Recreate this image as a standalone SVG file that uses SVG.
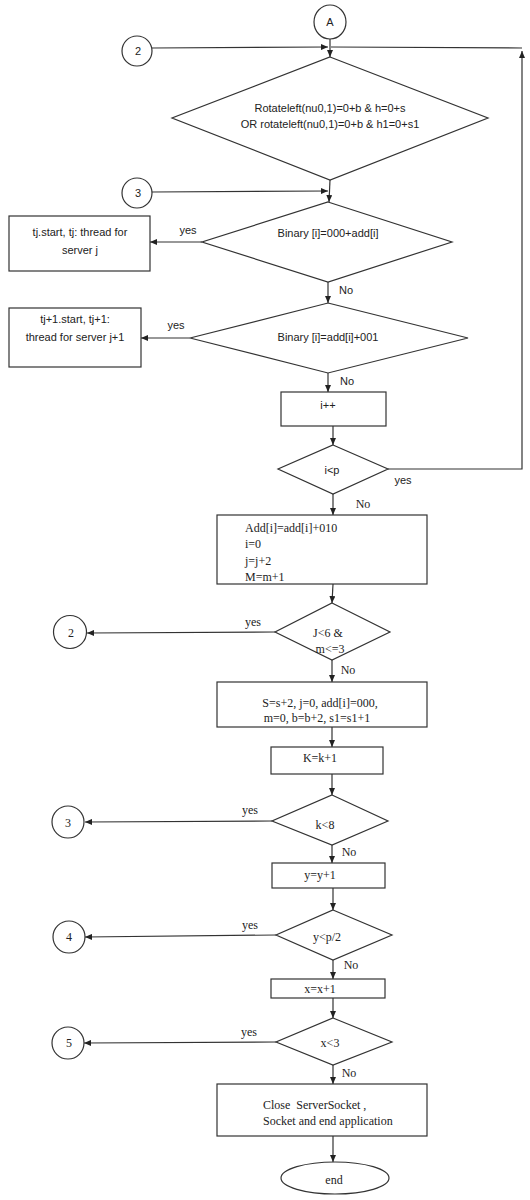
<svg xmlns="http://www.w3.org/2000/svg" width="530" height="1200" viewBox="0 0 530 1200">
<style>
.shape{fill:#fff;stroke:#333;stroke-width:1.2}
.line{fill:none;stroke:#333;stroke-width:1.2}
.arr{fill:none;stroke:#333;stroke-width:1.2;marker-end:url(#ah)}
.sans{font-family:"Liberation Sans",Arial,sans-serif;font-size:11px;fill:#222}
.serif{font-family:"Liberation Serif","Times New Roman",serif;font-size:12px;fill:#222}
.mid{text-anchor:middle}
</style>
<defs>
<marker id="ah" viewBox="0 0 7 6" refX="7" refY="3" markerWidth="7" markerHeight="6" orient="auto" markerUnits="userSpaceOnUse">
<path d="M0,0 L7,3 L0,6 z" fill="#222"/>
</marker>
</defs>
<rect width="530" height="1200" fill="#fff"/>

<g id="connectors">
<path class="arr" d="M330,39 L330,57"/>
<path class="arr" d="M152,48 L328,47"/>
<path class="arr" d="M388,469 L522,469 L522,51"/>
<path class="line" d="M522,48 L331,47"/>
<path class="arr" d="M152,192 L328,191"/>
<path class="arr" d="M330,180 L329,202"/>
<path class="arr" d="M202,242 L150,242"/>
<path class="arr" d="M328,282 L328,303"/>
<path class="arr" d="M190,338 L141,338"/>
<path class="arr" d="M328,373 L328,392"/>
<path class="arr" d="M333,426 L333,445"/>
<path class="arr" d="M333,494 L333,515"/>
<path class="arr" d="M333,584 L332,603"/>
<path class="arr" d="M275,632 L87,633"/>
<path class="arr" d="M332,660 L332,682"/>
<path class="arr" d="M332,727 L332,747"/>
<path class="arr" d="M332,774 L332,795"/>
<path class="arr" d="M272,821 L85,822"/>
<path class="arr" d="M332,845 L332,863"/>
<path class="arr" d="M333,888 L333,910"/>
<path class="arr" d="M276,935 L85,937"/>
<path class="arr" d="M333,960 L333,979"/>
<path class="arr" d="M333,998 L333,1018"/>
<path class="arr" d="M276,1042 L84,1043"/>
<path class="arr" d="M333,1065 L333,1084"/>
<path class="arr" d="M333,1136 L333,1162"/>
<text class="sans mid" x="188" y="234">yes</text>
<text class="sans mid" x="346" y="294">No</text>
<text class="sans mid" x="176" y="329">yes</text>
<text class="sans mid" x="347" y="385">No</text>
<text class="sans mid" x="403" y="484">yes</text>
<text class="serif mid" x="363" y="508">No</text>
<text class="serif mid" x="253" y="626">yes</text>
<text class="serif mid" x="348" y="674">No</text>
<text class="serif mid" x="250" y="814">yes</text>
<text class="serif mid" x="349" y="856">No</text>
<text class="serif mid" x="250" y="929">yes</text>
<text class="serif mid" x="351" y="969">No</text>
<text class="serif mid" x="249" y="1036">yes</text>
<text class="serif mid" x="349" y="1077">No</text>
</g>

<g id="start-A">
<ellipse class="shape" cx="330" cy="22" rx="16" ry="17"/>
<text class="sans mid" x="330" y="26">A</text>
</g>
<g id="conn-2-top">
<circle class="shape" cx="137" cy="51" r="15"/>
<text class="sans mid" x="138" y="55">2</text>
</g>
<g id="conn-3-top">
<circle class="shape" cx="137" cy="193" r="15"/>
<text class="sans mid" x="138" y="197">3</text>
</g>
<g id="dec-rotate">
<polygon class="shape" points="330,57 488,118 330,180 172,118"/>
<text class="sans mid" x="330" y="112">Rotateleft(nu0,1)=0+b &amp; h=0+s</text>
<text class="sans mid" x="330" y="128">OR rotateleft(nu0,1)=0+b &amp; h1=0+s1</text>
</g>
<g id="dec-binary-000">
<polygon class="shape" points="328,202 452,242 328,282 202,242"/>
<text class="sans mid" x="328" y="237">Binary [i]=000+add[i]</text>
</g>
<g id="box-tj">
<rect class="shape" x="9" y="216" width="141" height="55"/>
<text class="sans mid" x="80" y="236">tj.start, tj: thread for</text>
<text class="sans mid" x="80" y="254">server j</text>
</g>
<g id="dec-binary-001">
<polygon class="shape" points="328,303 468,338 328,373 190,338"/>
<text class="sans mid" x="328" y="341">Binary [i]=add[i]+001</text>
</g>
<g id="box-tj1">
<rect class="shape" x="9" y="308" width="132" height="59"/>
<text class="sans mid" x="75" y="323">tj+1.start, tj+1:</text>
<text class="sans mid" x="75" y="341">thread for  server j+1</text>
</g>
<g id="box-iinc">
<rect class="shape" x="281" y="392" width="105" height="34"/>
<text class="sans mid" x="328" y="409">i++</text>
</g>
<g id="dec-ip">
<polygon class="shape" points="333,445 388,469 333,494 278,469"/>
<text class="sans mid" x="332" y="474">i&lt;p</text>
</g>
<g id="box-add">
<rect class="shape" x="217" y="515" width="210" height="69"/>
<text class="serif" x="245" y="532">Add[i]=add[i]+010</text>
<text class="serif" x="245" y="548">i=0</text>
<text class="serif" x="245" y="565">j=j+2</text>
<text class="serif" x="245" y="581">M=m+1</text>
</g>
<g id="dec-j6">
<polygon class="shape" points="332,603 390,632 332,660 275,632"/>
<text class="serif mid" x="328" y="637">J&lt;6 &amp;</text>
<text class="serif mid" x="330" y="653">m&lt;=3</text>
</g>
<g id="conn-2-low">
<circle class="shape" cx="70" cy="632" r="16.5"/>
<text class="serif mid" x="71" y="637">2</text>
</g>
<g id="box-s">
<rect class="shape" x="217" y="682" width="210" height="45"/>
<text class="serif mid" x="320" y="707">S=s+2, j=0, add[i]=000,</text>
<text class="serif mid" x="317" y="722">m=0, b=b+2, s1=s1+1</text>
</g>
<g id="box-k">
<rect class="shape" x="271" y="747" width="112" height="27"/>
<text class="serif mid" x="320" y="762">K=k+1</text>
</g>
<g id="dec-k8">
<polygon class="shape" points="332,795 388,821 332,845 272,821"/>
<text class="serif mid" x="325" y="829">k&lt;8</text>
</g>
<g id="conn-3-low">
<circle class="shape" cx="68" cy="822" r="16"/>
<text class="serif mid" x="68" y="827">3</text>
</g>
<g id="box-y">
<rect class="shape" x="272" y="863" width="113" height="25"/>
<text class="serif mid" x="320" y="879">y=y+1</text>
</g>
<g id="dec-yp2">
<polygon class="shape" points="333,910 392,935 333,960 276,935"/>
<text class="serif mid" x="327" y="941">y&lt;p/2</text>
</g>
<g id="conn-4">
<circle class="shape" cx="69" cy="937" r="16"/>
<text class="serif mid" x="69" y="941">4</text>
</g>
<g id="box-x">
<rect class="shape" x="271" y="979" width="114" height="19"/>
<text class="serif mid" x="320" y="993">x=x+1</text>
</g>
<g id="dec-x3">
<polygon class="shape" points="333,1018 392,1042 333,1065 276,1042"/>
<text class="serif mid" x="330" y="1047">x&lt;3</text>
</g>
<g id="conn-5">
<circle class="shape" cx="68" cy="1043" r="16"/>
<text class="serif mid" x="69" y="1047">5</text>
</g>
<g id="box-close">
<rect class="shape" x="217" y="1084" width="210" height="52"/>
<text class="serif" x="263" y="1109" xml:space="preserve">Close  ServerSocket ,</text>
<text class="serif" x="263" y="1125">Socket and end application</text>
</g>
<g id="end">
<ellipse class="shape" cx="335" cy="1178" rx="54" ry="16"/>
<text class="serif mid" x="334" y="1184">end</text>
</g>
</svg>
